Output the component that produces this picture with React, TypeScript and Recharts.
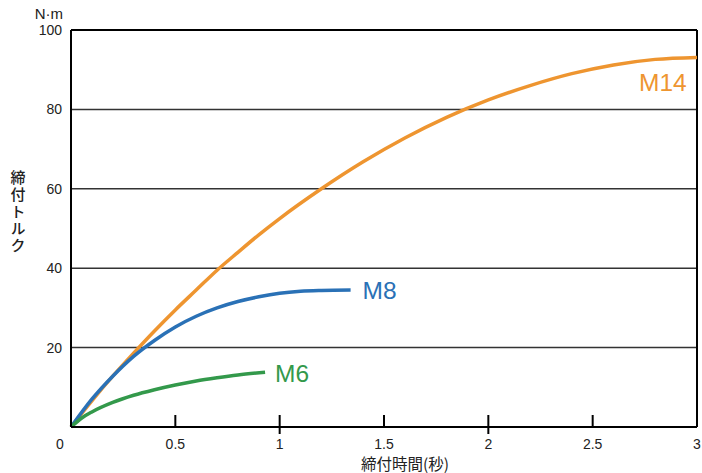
import { CartesianGrid, Line, LineChart, ReferenceLine, XAxis, YAxis } from "recharts";

const xTicks = [0, 0.5, 1, 1.5, 2, 2.5, 3];
const yTicks = [20, 40, 60, 80, 100];

const m14 = [
  { t: 0, v: 0 },
  { t: 0.1, v: 6.6 },
  { t: 0.2, v: 12.8 },
  { t: 0.3, v: 18.6 },
  { t: 0.4, v: 24.2 },
  { t: 0.5, v: 29.5 },
  { t: 0.6, v: 34.5 },
  { t: 0.7, v: 39.5 },
  { t: 0.8, v: 44.0 },
  { t: 0.9, v: 48.4 },
  { t: 1.0, v: 52.5 },
  { t: 1.2, v: 60.0 },
  { t: 1.4, v: 66.8 },
  { t: 1.6, v: 72.8 },
  { t: 1.8, v: 78.0 },
  { t: 2.0, v: 82.4 },
  { t: 2.2, v: 86.0 },
  { t: 2.4, v: 89.0 },
  { t: 2.6, v: 91.2 },
  { t: 2.8, v: 92.6 },
  { t: 3.0, v: 93.1 },
];

const m8 = [
  { t: 0, v: 0 },
  { t: 0.1, v: 7.0 },
  { t: 0.2, v: 12.8 },
  { t: 0.3, v: 17.8 },
  { t: 0.4, v: 21.8 },
  { t: 0.5, v: 25.2 },
  { t: 0.6, v: 27.9 },
  { t: 0.7, v: 30.0 },
  { t: 0.8, v: 31.6 },
  { t: 0.9, v: 32.8 },
  { t: 1.0, v: 33.7 },
  { t: 1.1, v: 34.2 },
  { t: 1.2, v: 34.4 },
  { t: 1.34, v: 34.5 },
];

const m6 = [
  { t: 0, v: 0 },
  { t: 0.05, v: 2.2 },
  { t: 0.1, v: 3.8 },
  { t: 0.2, v: 6.2 },
  { t: 0.3, v: 8.0 },
  { t: 0.4, v: 9.4 },
  { t: 0.5, v: 10.6 },
  { t: 0.6, v: 11.6 },
  { t: 0.7, v: 12.4 },
  { t: 0.8, v: 13.1 },
  { t: 0.93, v: 13.8 },
];

// 0.5 steps get a short mark pointing up; whole seconds also cross the axis
const longTicks = [1, 2];

const series = [
  { name: "M14", data: m14, color: "#EE9530", dx: -58, dy: 34 },
  { name: "M8", data: m8, color: "#2A71B6", dx: 12, dy: 9 },
  { name: "M6", data: m6, color: "#33994B", dx: 10, dy: 10 },
];

const font = "'Liberation Sans', Arial, sans-serif";
const cjk = "'Noto Sans CJK JP', sans-serif";

function XTick(props: any) {
  const { x, y, payload } = props;
  const v = payload.value;
  const long = longTicks.includes(v);
  return (
    <g>
      {v > 0 && v < 3 && (
        <path d={`M${x},${y - 12}L${x},${long ? y + 7 : y}`} stroke="#000" strokeWidth={2} fill="none" />
      )}
      <text x={v === 0 ? x - 11 : x} y={y + 22} textAnchor="middle" fontSize={14} fontFamily={font} fill="#222">
        {v}
      </text>
    </g>
  );
}

function endLabel(s: (typeof series)[number]) {
  return (props: any) => {
    if (props.index !== s.data.length - 1) return null;
    return (
      <text x={props.x + s.dx} y={props.y + s.dy} fontSize={24.5} fontFamily={font} fill={s.color}>
        {s.name}
      </text>
    );
  };
}

export default function App() {
  return (
    <div style={{ position: "absolute", left: 0, top: 0, background: "#fff" }}>
      <LineChart width={702} height={473} margin={{ top: 30, right: 5, bottom: 0, left: 0 }}>
        <CartesianGrid vertical={false} stroke="#333" strokeWidth={1.5} />
        <XAxis
          dataKey="t"
          type="number"
          domain={[0, 3]}
          ticks={xTicks}
          allowDuplicatedCategory={false}
          axisLine={{ stroke: "#000", strokeWidth: 2 }}
          tickLine={false}
          tickSize={0}
          tickMargin={0}
          tick={XTick}
          interval={0}
          height={46}
        />
        <YAxis
          type="number"
          domain={[0, 100]}
          ticks={yTicks}
          width={71}
          axisLine={{ stroke: "#000", strokeWidth: 2 }}
          tickLine={false}
          tickSize={0}
          tickMargin={9}
          interval={0}
          tick={{ fontSize: 14, fontFamily: font, fill: "#222" }}
        />
        <ReferenceLine y={100} stroke="#000" strokeWidth={2} />
        <ReferenceLine x={3} stroke="#000" strokeWidth={2} />
        {series.map((s) => (
          <Line
            key={s.name}
            data={s.data}
            dataKey="v"
            type="monotone"
            stroke={s.color}
            strokeWidth={3.5}
            dot={false}
            activeDot={false}
            isAnimationActive={false}
            label={endLabel(s)}
          />
        ))}
        <text x={63} y={19} textAnchor="end" fontSize={15} fontFamily={font} fill="#222">
          N·m
        </text>
        <text
          x={18}
          y={170}
          fontSize={15}
          fontFamily={cjk}
          fontWeight={500}
          fill="#222"
          letterSpacing={2}
          style={{ writingMode: "vertical-rl", textOrientation: "upright" }}
        >
          締付トルク
        </text>
        <text x={405} y={470} textAnchor="middle" fontSize={15.5} fontFamily={cjk} fill="#222">
          締付時間(秒)
        </text>
      </LineChart>
    </div>
  );
}
